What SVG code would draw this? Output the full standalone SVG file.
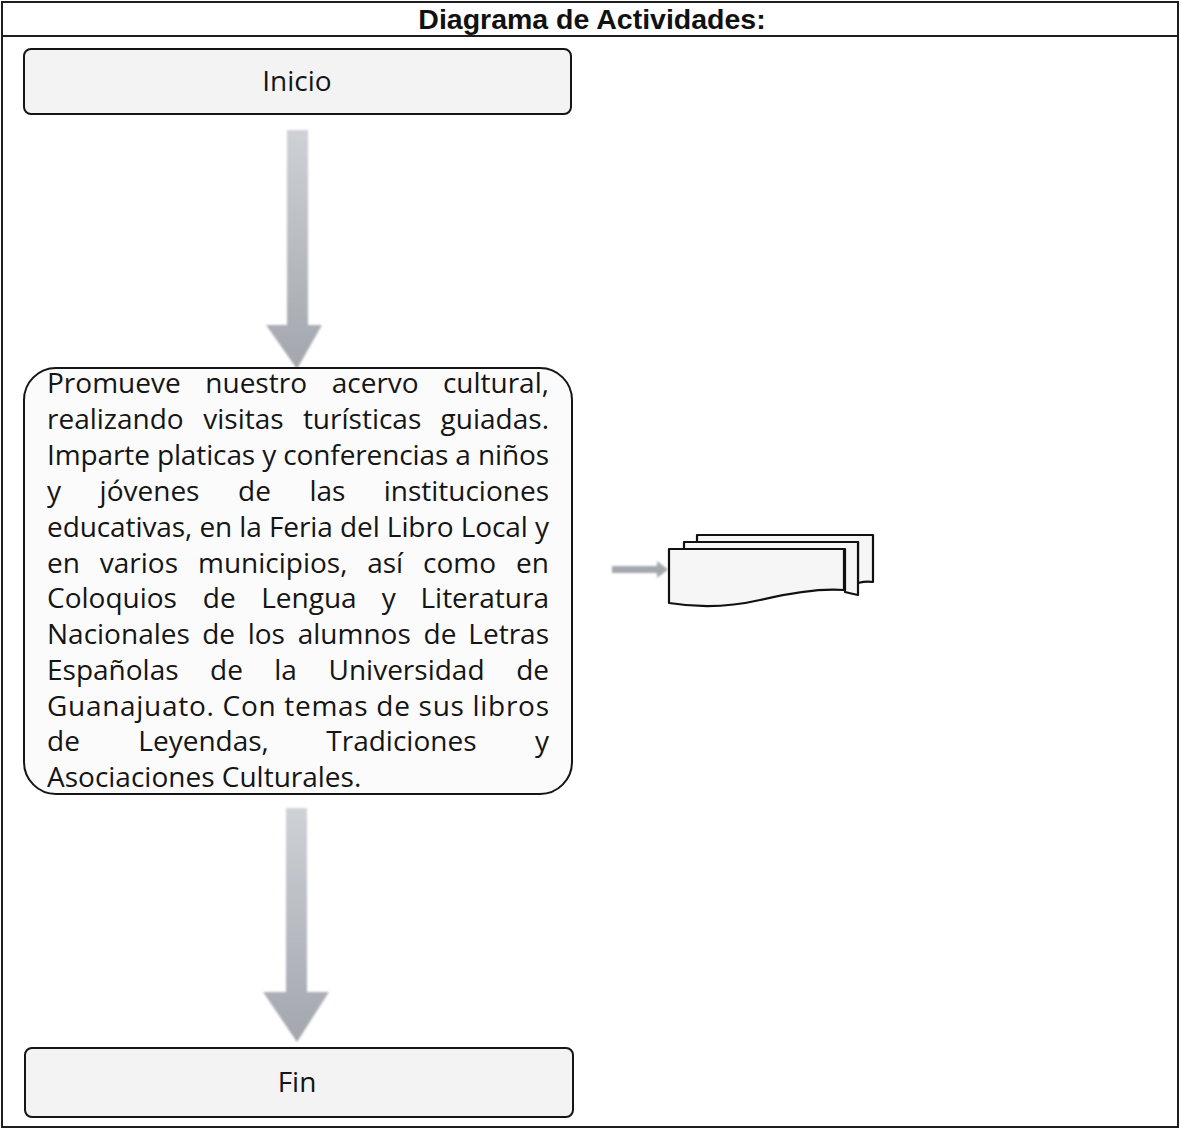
<svg xmlns="http://www.w3.org/2000/svg" width="1181" height="1133" viewBox="0 0 1181 1133">
  <style>
    .frame { fill: #ffffff; stroke: #1e1e1e; stroke-width: 2; }
    .title { font-family: "Liberation Sans", Arial, sans-serif; font-weight: bold; font-size: 28.5px; fill: #111; text-anchor: middle; }
    .term { fill: #f3f3f3; stroke: #151515; stroke-width: 2; }
    .act { fill: #fbfbfb; stroke: #151515; stroke-width: 2; }
    .lbl { font-family: "Open Sans", "Noto Sans", sans-serif; font-size: 28px; fill: #151515; }
    .mid { text-anchor: middle; }
    .end { text-anchor: end; }
    .doc { fill: #f6f6f6; stroke: #111; stroke-width: 2.2; stroke-linejoin: round; }
  </style>
  <defs>
    <linearGradient id="arrowShade" x1="0" y1="0" x2="0" y2="1">
      <stop offset="0" stop-color="#ced1d6"/>
      <stop offset="1" stop-color="#a2a6ad"/>
    </linearGradient>
    <filter id="soft" x="-20%" y="-20%" width="140%" height="140%">
      <feGaussianBlur stdDeviation="1"/>
    </filter>
  </defs>

  <!-- outer table frame and header row -->
  <rect class="frame" x="2" y="2" width="1176" height="1125"/>
  <line x1="2" y1="36" x2="1178" y2="36" stroke="#1e1e1e" stroke-width="2"/>
  <text class="title" x="592" y="29">Diagrama de Actividades:</text>

  <!-- connectors: block arrows -->
  <g id="connectors" fill="url(#arrowShade)" filter="url(#soft)">
    <path d="M287,130 H308 V325 H322 L297,369 L266,325 H287 Z"/>
    <path d="M286,808 H307 V992 H329 L297,1042 L263,992 H286 Z"/>
    <path d="M612,566 H657 V561 L668,569.5 L657,578 V573 H612 Z" fill="#a3a7ae"/>
  </g>

  <!-- start node -->
  <g id="inicio">
    <rect class="term" x="24" y="49" width="547" height="65" rx="7"/>
    <text class="lbl mid" x="297" y="91">Inicio</text>
  </g>

  <!-- activity node: justified paragraph, one word per text where lines are spread -->
  <g id="actividad">
    <rect class="act" x="24" y="368" width="548" height="426" rx="32"/>
    <g class="lbl">
      <text x="47" y="393">Promueve</text>
      <text x="205.3" y="393">nuestro</text>
      <text x="331.7" y="393">acervo</text>
      <text class="end" x="549" y="393">cultural,</text>

      <text x="47" y="429">realizando</text>
      <text x="203.3" y="429">visitas</text>
      <text x="302.9" y="429">turísticas</text>
      <text class="end" x="549" y="429">guiadas.</text>

      <text x="47" y="465" textLength="502" lengthAdjust="spacing">Imparte platicas y conferencias a niños</text>

      <text x="47" y="501">y</text>
      <text x="99.6" y="501">jóvenes</text>
      <text x="238" y="501">de</text>
      <text x="309.4" y="501">las</text>
      <text class="end" x="549" y="501">instituciones</text>

      <text x="47" y="537" textLength="502" lengthAdjust="spacing">educativas, en la Feria del Libro Local y</text>

      <text x="47" y="573">en</text>
      <text x="99.8" y="573">varios</text>
      <text x="198" y="573">municipios,</text>
      <text x="367.2" y="573">así</text>
      <text x="423.1" y="573">como</text>
      <text class="end" x="549" y="573">en</text>

      <text x="47" y="608">Coloquios</text>
      <text x="202.8" y="608">de</text>
      <text x="261.2" y="608">Lengua</text>
      <text x="381.7" y="608">y</text>
      <text class="end" x="549" y="608">Literatura</text>

      <text x="47" y="644">Nacionales</text>
      <text x="202.2" y="644">de</text>
      <text x="247.7" y="644">los</text>
      <text x="297.7" y="644">alumnos</text>
      <text x="423.6" y="644">de</text>
      <text class="end" x="549" y="644">Letras</text>

      <text x="47" y="680">Españolas</text>
      <text x="210" y="680">de</text>
      <text x="274.3" y="680">la</text>
      <text x="328.5" y="680">Universidad</text>
      <text class="end" x="549" y="680">de</text>

      <text x="47" y="716" textLength="502" lengthAdjust="spacing">Guanajuato. Con temas de sus libros</text>

      <text x="47" y="751">de</text>
      <text x="138.3" y="751">Leyendas,</text>
      <text x="326.3" y="751">Tradiciones</text>
      <text class="end" x="549" y="751">y</text>

      <text x="47" y="787">Asociaciones Culturales.</text>
    </g>
  </g>

  <!-- multi-document output -->
  <g id="documentos">
    <path class="doc" d="M697,535 H873 V582 C866,581 862,582 858,583 V542 H697 Z"/>
    <path class="doc" d="M684,542 H858 V595 C853,594 849,593 845,592 V549 H684 Z"/>
    <path class="doc" d="M669,549 H844 V590 C820,588 790,593 760,600 C730,607 700,608 669,603 Z"/>
  </g>

  <!-- end node -->
  <g id="fin">
    <rect class="term" x="25" y="1048" width="548" height="69" rx="7"/>
    <text class="lbl mid" x="297" y="1092">Fin</text>
  </g>
</svg>
